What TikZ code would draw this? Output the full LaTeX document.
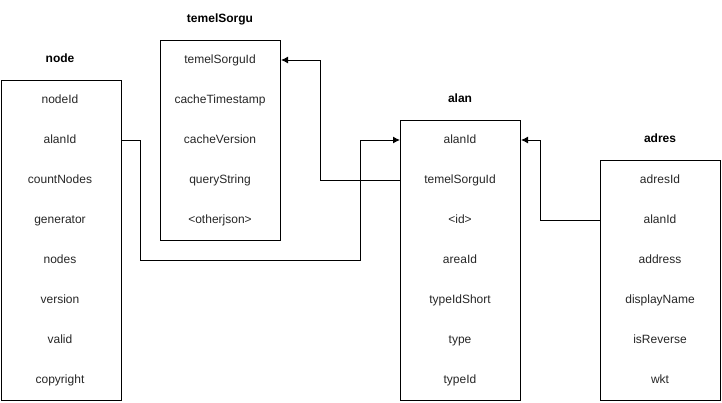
\documentclass[tikz,border=0pt]{standalone}
\usepackage{fontspec}
\setmainfont{Liberation Sans}
\usetikzlibrary{arrows.meta}
\begin{document}
\begin{tikzpicture}[x=1pt,y=-1pt,
  tbl/.style={draw=black,line width=1pt,minimum width=120pt,inner sep=0pt,anchor=north west},
  row/.style={font=\fontsize{12}{14}\selectfont,inner sep=0pt,text height=9pt,text depth=2.5pt,text=black!85},
  ttl/.style={font=\fontsize{12}{14}\selectfont\bfseries,inner sep=0pt,text height=9pt,text depth=2.5pt},
  conn/.style={draw=black,line width=1pt},
  arr/.style={conn,-{Latex[length=7pt,width=7pt]}}]
\useasboundingbox (0,0) rectangle (722,402);
% tables
\node[tbl,minimum height=320pt] (tnode) at (0.5,80) {};
\node[tbl,minimum height=200pt] (ttemel) at (160,40) {};
\node[tbl,minimum height=280pt] (talan) at (400,120) {};
\node[tbl,minimum height=240pt] (tadres) at (600,160) {};
% titles
\node[ttl] (hnode) at (60,59) {node};
\node[ttl] (htemel) at (220,19) {temelSorgu};
\node[ttl] (halan) at (460,99) {alan};
\node[ttl] (hadres) at (660,139) {adres};
% node rows
\node[row] (n1) at (60,100) {nodeId};
\node[row] (n2) at (60,140) {alanId};
\node[row] (n3) at (60,180) {countNodes};
\node[row] (n4) at (60,220) {generator};
\node[row] (n5) at (60,260) {nodes};
\node[row] (n6) at (60,300) {version};
\node[row] (n7) at (60,340) {valid};
\node[row] (n8) at (60,380) {copyright};
% temelSorgu rows
\node[row] (t1) at (220,60) {temelSorguId};
\node[row] (t2) at (220,100) {cacheTimestamp};
\node[row] (t3) at (220,140) {cacheVersion};
\node[row] (t4) at (220,180) {queryString};
\node[row] (t5) at (220,220) {<otherjson>};
% alan rows
\node[row] (a1) at (460,140) {alanId};
\node[row] (a2) at (460,180) {temelSorguId};
\node[row] (a3) at (460,220) {<id>};
\node[row] (a4) at (460,260) {areaId};
\node[row] (a5) at (460,300) {typeIdShort};
\node[row] (a6) at (460,340) {type};
\node[row] (a7) at (460,380) {typeId};
% adres rows
\node[row] (d1) at (660,180) {adresId};
\node[row] (d2) at (660,220) {alanId};
\node[row] (d3) at (660,260) {address};
\node[row] (d4) at (660,300) {displayName};
\node[row] (d5) at (660,340) {isReverse};
\node[row] (d6) at (660,380) {wkt};
% connectors
\draw[arr] (tnode.east |- n2) -- (140,140) -- (140,260) -- (360,260) -- (360,140) -- (talan.west |- a1);
\draw[arr] (talan.west |- a2) -- (320,180) -- (320,60) -- (ttemel.east |- t1);
\draw[arr] (tadres.west |- d2) -- (540,220) -- (540,140) -- (talan.east |- a1);
\end{tikzpicture}
\end{document}
